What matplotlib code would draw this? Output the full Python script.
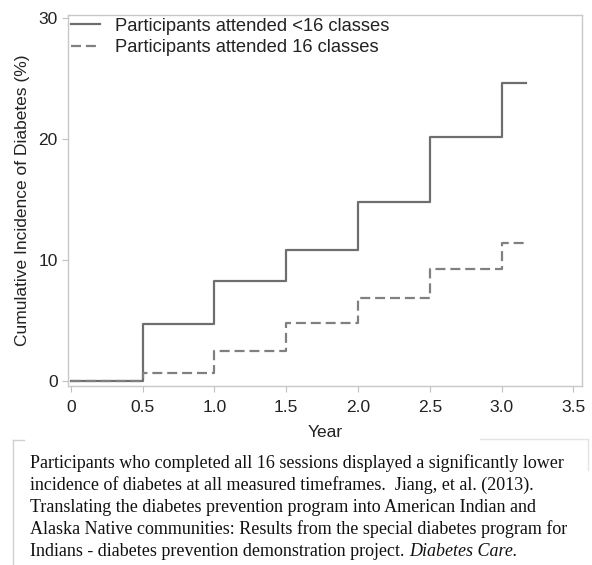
import matplotlib
matplotlib.use("Agg")
import matplotlib.pyplot as plt
from matplotlib.lines import Line2D

years = [0, 0.5, 1.0, 1.5, 2.0, 2.5, 3.0, 3.17]
lt16 = [0, 4.7, 8.3, 10.8, 14.8, 20.2, 24.6, 24.6]
eq16 = [0, 0.7, 2.5, 4.8, 6.9, 9.3, 11.4, 11.4]
labels = ["Participants attended <16 classes", "Participants attended 16 classes"]
xticks = [0, 0.5, 1.0, 1.5, 2.0, 2.5, 3.0, 3.5]
xticklabels = ["0", "0.5", "1.0", "1.5", "2.0", "2.5", "3.0", "3.5"]
yticks = [0, 10, 20, 30]

caption_lines = [
    "Participants who completed all 16 sessions displayed a significantly lower",
    "incidence of diabetes at all measured timeframes.  Jiang, et al. (2013).",
    "Translating the diabetes prevention program into American Indian and",
    "Alaska Native communities: Results from the special diabetes program for",
    "Indians - diabetes prevention demonstration project. ",
]
journal = "Diabetes Care."

plt.rcParams['font.family'] = ['Liberation Sans', 'DejaVu Sans']
fig = plt.figure(figsize=(5.92, 5.65), dpi=100)
ax = fig.add_axes([68/592, 1-386/565, (582-68)/592, (386-15)/565])

ax.step(years, lt16, where='post', color='#6e6e6e', lw=1.6, label=labels[0])
ax.step(years, eq16, where='post', color='#808080', lw=1.6, dashes=(4.5, 2.2), label=labels[1])

ax.set_xlim(-0.02, 3.56)
ax.set_ylim(-0.4, 30.25)
ax.set_xticks(xticks)
ax.set_xticklabels(xticklabels)
ax.set_yticks(yticks)
ax.tick_params(axis='both', labelsize=12.5, colors='#c0c0c0', labelcolor='#222222', length=4, width=0.8)
ax.tick_params(axis='x', pad=6)
for s in ax.spines.values():
    s.set_color('#c8c8c8')
    s.set_linewidth(1.0)
ax.set_xlabel("Year", fontsize=12.5, color='#222222', labelpad=7)
ax.set_ylabel("Cumulative Incidence of Diabetes (%)", fontsize=12.5, color='#222222', labelpad=6)

leg = ax.legend(loc='upper left', frameon=False, fontsize=13.2, handlelength=1.6,
                handletextpad=0.8, borderaxespad=0.05, labelspacing=0.25, borderpad=0.1)
for t in leg.get_texts():
    t.set_color('#222222')

# caption box lines
fig.add_artist(Line2D([13/592, 13/592], [1-440/565, 0], color='#d0d0d0', lw=1.0))
fig.add_artist(Line2D([13/592, 24/592], [1-440/565, 1-440/565], color='#d0d0d0', lw=1.0))
fig.add_artist(Line2D([480/592, 588/592], [1-439/565, 1-439/565], color='#e4e4e4', lw=1.0))
fig.add_artist(Line2D([588/592, 588/592], [1-439/565, 1-470/565], color='#e4e4e4', lw=1.0))

fs = 13.0
fig.canvas.draw()
r = fig.canvas.get_renderer()
for i, line in enumerate(caption_lines):
    y = 1 - (468 + 22 * i) / 565
    t = fig.text(30/592, y, line, fontsize=fs, family=['Liberation Serif'],
                 va='baseline', ha='left', color='#111111')
    if i == len(caption_lines) - 1:
        w = t.get_window_extent(renderer=r).width
        fig.text((30 + w)/592, y, journal, fontsize=fs, family=['Liberation Serif'],
                 style='italic', va='baseline', ha='left', color='#111111')

fig.savefig("out.png", dpi=100)
